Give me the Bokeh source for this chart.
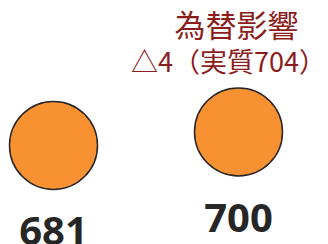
from bokeh.plotting import figure
from bokeh.models import ColumnDataSource, Range1d
from bokeh.core.properties import value
from bokeh.embed import file_html
from bokeh.resources import INLINE

# data
positions = [0, 1]
values = [681, 700]
value_labels = ["681", "700"]
note_line1 = "為替影響"
note_line2 = "△4（実質704）"

src = ColumnDataSource(dict(x=positions, y=values, label=value_labels))

p = figure(width=328, height=244, output_backend="svg", toolbar_location=None,
           x_range=Range1d(-0.2865, 1.4865), y_range=Range1d(541.6, 885.0),
           min_border=0)
p.axis.visible = False
p.grid.visible = False
p.outline_line_color = None
p.background_fill_color = "white"
p.border_fill_color = "white"

p.scatter("x", "y", source=src, size=88, fill_color="#F79132",
          line_color="#262626", line_width=1.5)

p.text("x", "y", text="label", source=src, y_offset=86,
       text_align="center", text_baseline="alphabetic",
       text_font=value("Noto Sans"), text_font_style="bold",
       text_font_size="40px", text_color="#262626")

note_src = ColumnDataSource(dict(x=[positions[1]], y=[values[1]],
                                 l1=[note_line1], l2=[note_line2]))
p.text("x", "y", text="l1", source=note_src, y_offset=-108, x_offset=-2,
       text_align="center", text_baseline="alphabetic",
       text_font=value("Noto Sans CJK JP"), text_font_size="31px",
       text_color="#8B1D1D")
p.text("x", "y", text="l2", source=note_src, y_offset=-71, x_offset=-10,
       text_align="center", text_baseline="alphabetic",
       text_font=value("Noto Sans CJK JP"), text_font_size="27px",
       text_color="#8B1D1D")

open("out.html", "w").write(file_html(p, INLINE))
